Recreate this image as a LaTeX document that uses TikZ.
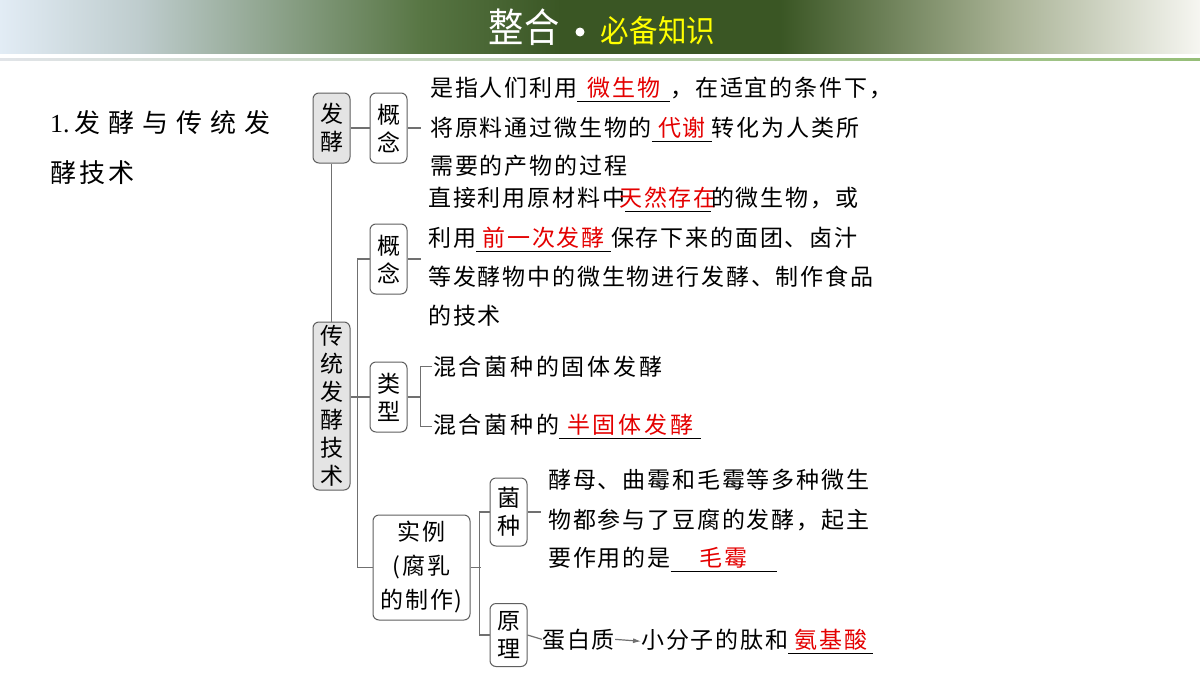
\documentclass[tikz,border=0pt]{standalone}
\usepackage{fontspec}
\setmainfont{Noto Sans CJK SC}
\newfontfamily\bodyfont{Noto Sans CJK SC}[LetterSpace=8]
\newfontfamily\numfont{Liberation Serif}
\usetikzlibrary{calc, positioning, arrows.meta}

\definecolor{hdA}{RGB}{226,236,245}
\definecolor{hdB}{RGB}{190,204,205}
\definecolor{hdC}{RGB}{88,118,68}
\definecolor{hdD}{RGB}{58,86,36}
\definecolor{hdE}{RGB}{165,175,145}
\definecolor{hdF}{RGB}{246,246,241}
\definecolor{rulegreen}{RGB}{150,190,120}
\definecolor{rulegray}{RGB}{225,228,232}
\definecolor{titleyel}{RGB}{255,255,0}
\definecolor{fillred}{RGB}{228,0,0}
\definecolor{linegray}{RGB}{112,112,112}
\definecolor{boxline}{RGB}{95,95,95}
\definecolor{boxfill}{RGB}{228,228,228}

\newcommand{\textsize}{\bodyfont\fontsize{23}{28}\selectfont}
\newcommand{\fillin}[2]{\leavevmode\rlap{\raisebox{-6pt}{\rule{#1}{1.1pt}}}\makebox[#1]{\textcolor{fillred}{#2}}}

\tikzset{
  box/.style={draw=boxline, line width=1pt, rounded corners=6pt, fill=white,
    minimum width=37pt, inner sep=1pt, align=center, font=\textsize},
  graybox/.style={box, fill=boxfill},
  txt/.style={anchor=base west, inner sep=0pt, font=\textsize},
  conn/.style={draw=linegray, line width=1.2pt}
}

\begin{document}
\begin{tikzpicture}[x=1pt, y=-1pt]
    \useasboundingbox[fill=white] (0,0) rectangle (1200,675);

    % header band
    \foreach \xa/\xb/\ca/\cb in {0/141/hdA/hdB, 140/421/hdB/hdC, 420/561/hdC/hdD,
        560/781/hdD/hdD, 780/1001/hdD/hdE, 1000/1200/hdE/hdF}
        \shade[left color=\ca, right color=\cb] (\xa,0) rectangle (\xb,53);
    \shade[left color=rulegray, right color=rulegreen] (0,58) rectangle (1200,60);

    \node[text=white, font=\fontsize{40}{40}\selectfont] (hzh) at (524,27) {\scalebox{0.88}[1]{整合}};
    \fill[white] (580,32) circle (4.5);
    \node[text=titleyel, font=\fontsize{31}{31}\selectfont] (hbk) at (658,31) {\scalebox{0.92}[1]{必备知识}};

    % left title
    \node[anchor=base west, inner sep=0pt, font=\fontsize{26}{26}\selectfont] (ttla) at (50,132)
        {{\numfont 1.}\,\addfontfeature{LetterSpace=31}发酵与传统发};
    \node[anchor=base west, inner sep=0pt, font=\fontsize{26}{26}\selectfont] (ttlb) at (50,182)
        {\addfontfeature{LetterSpace=13}酵技术};

    % boxes
    \node[graybox, minimum height=70pt] (fj) at (331.5,128) {发\\酵};
    \node[box, minimum height=70pt] (gn1) at (388.5,128) {概\\念};
    \node[graybox, minimum height=168pt] (ct) at (331.5,406) {传\\统\\发\\酵\\技\\术};
    \node[box, minimum height=70pt] (gn2) at (388.5,259) {概\\念};
    \node[box, minimum height=70pt] (lx) at (388.5,397) {类\\型};
    \node[box, minimum width=97pt, minimum height=105pt, font=\bodyfont\fontsize{23}{34}\selectfont]
        (sl) at (421.5,567.5) {实例\\(腐乳\\的制作)};
    \node[box, minimum height=68pt] (jz) at (508.5,512) {菌\\种};
    \node[box, minimum height=63pt] (yl) at (508.5,635) {原\\理};

    % texts
    \node[txt] (gn1a) at (430,96) {是指人们利用\fillin{93pt}{微生物}，在适宜的条件下，};
    \node[txt] (gn1b) at (430,136) {将原料通过微生物的\fillin{60pt}{代谢}转化为人类所};
    \node[txt] (gn1c) at (430,174) {需要的产物的过程};

    \node[txt] (gn2a) at (428,206) {直接利用原材料中\fillin{86pt}{天然存在}的微生物，或};
    \node[txt] (gn2b) at (428,246) {利用\fillin{135pt}{前一次发酵}保存下来的面团、卤汁};
    \node[txt] (gn2c) at (428,285) {等发酵物中的微生物进行发酵、制作食品};
    \node[txt] (gn2d) at (428,324) {的技术};

    \node[txt] (lxa) at (433,375) {\addfontfeature{LetterSpace=12}混合菌种的固体发酵};
    \node[txt] (lxb) at (433,433) {\addfontfeature{LetterSpace=12}混合菌种的\fillin{142pt}{半固体发酵}};

    \node[txt] (jza) at (548,488) {酵母、曲霉和毛霉等多种微生};
    \node[txt] (jzb) at (548,528) {物都参与了豆腐的发酵，起主};
    \node[txt] (jzc) at (548,566) {要作用的是\fillin{106pt}{毛霉}};

    \node[txt] (dbz) at (542,648) {蛋白质};
    \node[txt, right=26pt of dbz.base east, anchor=base west] (xfz) {小分子的肽和\fillin{85pt}{氨基酸}};

    % connectors
    \draw[conn] (fj.east) -- (gn1.west);
    \draw[conn] (gn1.east) -- ++(13,0) coordinate (gn1t);
    \draw[conn] (fj.south) -- (ct.north);
    \draw[conn] (gn2.west) -- ++(-12,0) |- (sl.west);
    \draw[conn] (ct.east |- lx.west) -- (lx.west);
    \draw[conn] (gn2.east) -- ++(13,0) coordinate (gn2t);
    \draw[conn] (lx.east) -- ++(13,0) coordinate (lxm);
    \draw[conn] ($(lxa.west)+(-1,0)$) -| (lxm) |- ($(lxb.west)+(-1,0)$);
    \draw[conn] (jz.west) -- ++(-10,0) |- (yl.west);
    \draw[conn] (sl.east) -- ++(10,0);
    \draw[conn] (jz.east) -- ++(13,0) coordinate (jzt);
    \draw[conn] (yl.east) -- (dbz.west);
    \draw[conn, -{Latex[length=8pt, width=5pt]}] (dbz.east) -- (xfz.west);
\end{tikzpicture}
\end{document}
